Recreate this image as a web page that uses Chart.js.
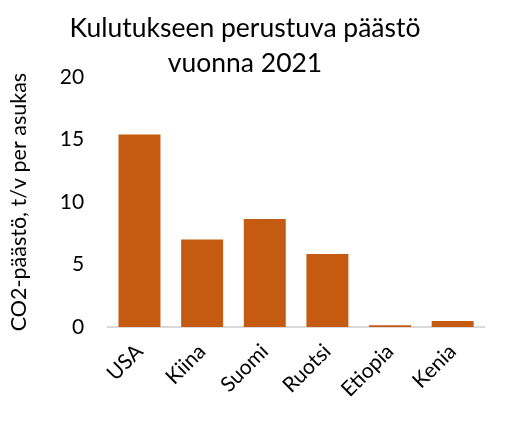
<!DOCTYPE html>
<html>
<head>
<meta charset="utf-8">
<script src="https://cdn.jsdelivr.net/npm/chart.js@4"></script>
<style>
  html, body { margin: 0; padding: 0; background: #fff; }
  #wrap { width: 520px; height: 427px; }
</style>
</head>
<body>
<div id="wrap"><canvas id="chart"></canvas></div>
<script>
// data
const countries = ["USA", "Kiina", "Suomi", "Ruotsi", "Etiopia", "Kenia"];
const emissions = [15.4, 7.0, 8.65, 5.85, 0.15, 0.48];
const yTicks = [0, 5, 10, 15, 20];

const fontFamily = "Lato, 'Open Sans', sans-serif";

new Chart(document.getElementById("chart"), {
  type: "bar",
  data: {
    labels: countries,
    datasets: [{
      data: emissions,
      backgroundColor: "#c55a11",
      categoryPercentage: 1,
      barPercentage: 0.67,
    }],
  },
  options: {
    responsive: true,
    maintainAspectRatio: false,
    animation: false,
    layout: { padding: { left: 6, right: 36, top: 2, bottom: 13 } },
    plugins: {
      legend: { display: false },
      tooltip: { enabled: false },
      title: {
        display: true,
        text: ["Kulutukseen perustuva päästö", "vuonna 2021"],
        color: "#000",
        font: { family: fontFamily, size: 26.5, weight: "normal", lineHeight: 1.32 },
        padding: { top: 9, bottom: -4 },
      },
    },
    scales: {
      x: {
        grid: { display: false, drawTicks: false },
        border: { color: "#d9d9d9", width: 2 },
        ticks: {
          color: "#000",
          font: { family: fontFamily, size: 21 },
          minRotation: 45,
          maxRotation: 45,
          padding: 12,
        },
      },
      y: {
        min: 0,
        max: 20,
        afterBuildTicks: (axis) => {
          axis.ticks = yTicks.map((v) => ({ value: v }));
        },
        grid: { display: false, drawTicks: false },
        border: { display: false },
        ticks: {
          color: "#000",
          font: { family: fontFamily, size: 21 },
          padding: 24,
        },
        title: {
          display: true,
          text: "CO2-päästö, t/v per asukas",
          color: "#000",
          font: { family: fontFamily, size: 21.5 },
          padding: { top: 0, bottom: 4 },
        },
      },
    },
  },
});
</script>
</body>
</html>
